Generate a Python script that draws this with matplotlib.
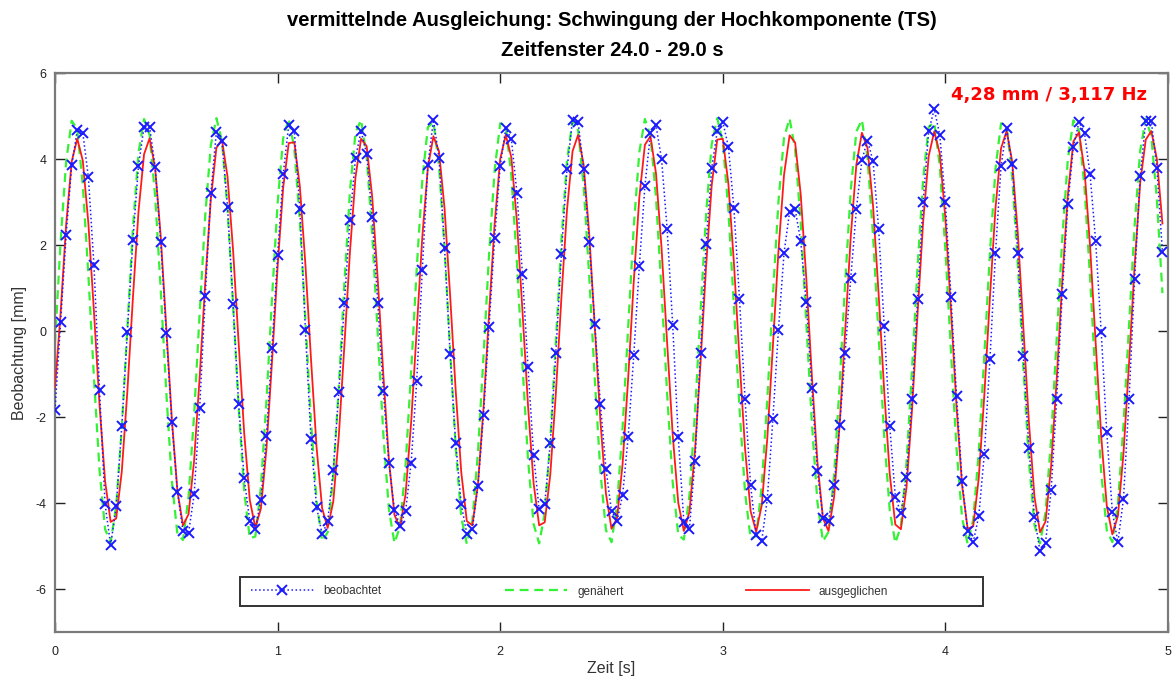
import numpy as np
import matplotlib
matplotlib.use("Agg")
import matplotlib.pyplot as plt
from matplotlib.patches import Rectangle

# Abtastrate der Messung (Hz) und Zeitfenster
ABTASTRATE = 40.0
FENSTER_START = 24.0
FENSTER_ENDE = 29.0

# Ergebnis der Ausgleichung
AMPLITUDE_MM = 4.28
FREQUENZ_HZ = 3.117

# beobachtete Hochkomponente [mm]
beobachtet = [
    -1.84, 0.20, 2.23, 3.85, 4.67, 4.61, 3.57, 1.53, -1.37, -4.03,
    -4.98, -4.08, -2.22, -0.02, 2.12, 3.84, 4.75, 4.75, 3.81, 2.07,
    -0.05, -2.12, -3.74, -4.65, -4.70, -3.80, -1.78, 0.81, 3.20, 4.63,
    4.42, 2.89, 0.62, -1.70, -3.43, -4.42, -4.60, -3.93, -2.44, -0.39,
    1.77, 3.64, 4.79, 4.65, 2.83, 0.02, -2.52, -4.09, -4.73, -4.43,
    -3.24, -1.42, 0.64, 2.58, 4.03, 4.65, 4.12, 2.66, 0.66, -1.40,
    -3.06, -4.17, -4.53, -4.19, -3.06, -1.16, 1.42, 3.85, 4.91, 4.03,
    1.94, -0.53, -2.61, -4.03, -4.71, -4.60, -3.60, -1.95, 0.09, 2.16,
    3.84, 4.71, 4.47, 3.22, 1.32, -0.84, -2.88, -4.15, -4.03, -2.61,
    -0.50, 1.80, 3.76, 4.91, 4.86, 3.76, 2.07, 0.16, -1.69, -3.20,
    -4.19, -4.42, -3.81, -2.46, -0.56, 1.51, 3.37, 4.60, 4.78, 3.99,
    2.37, 0.13, -2.47, -4.44, -4.61, -3.02, -0.51, 2.02, 3.78, 4.65,
    4.86, 4.29, 2.85, 0.74, -1.59, -3.59, -4.75, -4.88, -3.90, -2.05,
    0.03, 1.81, 2.77, 2.83, 2.09, 0.67, -1.32, -3.26, -4.34, -4.42,
    -3.57, -2.19, -0.50, 1.24, 2.83, 3.98, 4.43, 3.95, 2.38, 0.12,
    -2.21, -3.85, -4.24, -3.39, -1.59, 0.74, 3.00, 4.65, 5.16, 4.55,
    2.99, 0.80, -1.51, -3.49, -4.65, -4.91, -4.30, -2.85, -0.66, 1.81,
    3.84, 4.71, 3.88, 1.81, -0.58, -2.71, -4.32, -5.12, -4.92, -3.70,
    -1.59, 0.87, 2.95, 4.29, 4.86, 4.60, 3.64, 2.09, -0.03, -2.36,
    -4.21, -4.91, -3.90, -1.59, 1.20, 3.60, 4.88, 4.88, 3.78, 1.84,
]

# Näherungswerte vor der Ausgleichung [mm]
genaehert = [
    -0.28, 2.07, 3.94, 4.89, 4.69, 3.39, 1.30, -1.09, -3.23, -4.61,
    -4.92, -4.06, -2.26, 0.07, 2.39, 4.14, 4.93, 4.56, 3.13, 0.96,
    -1.43, -3.49, -4.73, -4.86, -3.85, -1.94, 0.42, 2.69, 4.32, 4.95,
    4.42, 2.85, 0.61, -1.77, -3.73, -4.82, -4.78, -3.62, -1.62, 0.77,
    2.97, 4.48, 4.94, 4.25, 2.55, 0.26, -2.09, -3.95, -4.89, -4.68,
    -3.38, -1.28, 1.11, 3.25, 4.62, 4.91, 4.05, 2.25, -0.09, -2.40,
    -4.15, -4.93, -4.55, -3.11, -0.94, 1.45, 3.50, 4.74, 4.86, 3.84,
    1.93, -0.44, -2.70, -4.33, -4.95, -4.41, -2.83, -0.59, 1.78, 3.74,
    4.83, 4.78, 3.61, 1.60, -0.79, -2.99, -4.49, -4.94, -4.24, -2.54,
    -0.24, 2.11, 3.96, 4.89, 4.67, 3.36, 1.26, -1.13, -3.26, -4.63,
    -4.91, -4.04, -2.23, 0.11, 2.42, 4.16, 4.93, 4.55, 3.10, 0.92,
    -1.47, -3.52, -4.74, -4.85, -3.83, -1.91, 0.46, 2.72, 4.34, 4.95,
    4.40, 2.81, 0.57, -1.80, -3.76, -4.83, -4.77, -3.60, -1.58, 0.81,
    3.01, 4.50, 4.94, 4.22, 2.52, 0.22, -2.12, -3.98, -4.89, -4.67,
    -3.35, -1.24, 1.15, 3.28, 4.64, 4.91, 4.03, 2.21, -0.13, -2.44,
    -4.17, -4.93, -4.54, -3.08, -0.90, 1.49, 3.53, 4.75, 4.85, 3.82,
    1.89, -0.48, -2.74, -4.35, -4.95, -4.39, -2.80, -0.55, 1.82, 3.77,
    4.83, 4.77, 3.58, 1.56, -0.83, -3.02, -4.51, -4.94, -4.21, -2.50,
    -0.20, 2.14, 3.99, 4.90, 4.66, 3.33, 1.23, -1.17, -3.29, -4.64,
    -4.91, -4.02, -2.19, 0.15, 2.45, 4.19, 4.94, 4.53, 3.07, 0.88,
]

# ausgeglichene Werte [mm]
ausgeglichen = [
    -1.32, 0.41, 2.47, 3.94, 4.47, 3.96, 2.50, 0.45, -1.72, -3.49,
    -4.44, -4.36, -3.27, -1.41, 0.77, 2.77, 4.11, 4.48, 3.78, 2.20,
    0.08, -2.06, -3.72, -4.52, -4.26, -3.01, -1.06, 1.14, 3.06, 4.26,
    4.45, 3.59, 1.88, -0.28, -2.38, -3.93, -4.57, -4.13, -2.73, -0.70,
    1.49, 3.33, 4.37, 4.39, 3.36, 1.54, -0.65, -2.70, -4.12, -4.58,
    -3.97, -2.44, -0.34, 1.84, 3.58, 4.47, 4.30, 3.12, 1.19, -1.02,
    -3.00, -4.28, -4.57, -3.79, -2.12, 0.03, 2.18, 3.80, 4.53, 4.18,
    2.85, 0.83, -1.38, -3.28, -4.42, -4.52, -3.57, -1.79, 0.41, 2.50,
    4.00, 4.56, 4.04, 2.56, 0.47, -1.74, -3.54, -4.52, -4.45, -3.34,
    -1.45, 0.78, 2.81, 4.18, 4.56, 3.86, 2.25, 0.10, -2.08, -3.78,
    -4.60, -4.35, -3.08, -1.09, 1.15, 3.11, 4.33, 4.53, 3.66, 1.92,
    -0.28, -2.42, -4.00, -4.65, -4.21, -2.79, -0.73, 1.51, 3.38, 4.45,
    4.47, 3.43, 1.58, -0.65, -2.74, -4.19, -4.67, -4.05, -2.49, -0.35,
    1.86, 3.63, 4.55, 4.38, 3.18, 1.23, -1.03, -3.04, -4.36, -4.65,
    -3.86, -2.17, 0.02, 2.21, 3.87, 4.61, 4.26, 2.91, 0.86, -1.39,
    -3.33, -4.50, -4.61, -3.65, -1.84, 0.40, 2.54, 4.07, 4.64, 4.12,
    2.61, 0.49, -1.76, -3.60, -4.60, -4.54, -3.41, -1.48, 0.78, 2.86,
    4.25, 4.65, 3.94, 2.30, 0.11, -2.11, -3.85, -4.68, -4.43, -3.14,
    -1.12, 1.16, 3.16, 4.41, 4.62, 3.74, 1.97, -0.27, -2.45, -4.07,
    -4.73, -4.30, -2.85, -0.75, 1.52, 3.44, 4.45, 4.65, 4.00, 2.50,
]

zeit = np.arange(len(beobachtet)) / ABTASTRATE

plt.rcParams["font.family"] = ["Liberation Sans", "DejaVu Sans"]
plt.rcParams["axes.unicode_minus"] = False

W, H = 1172, 678
AX_L, AX_R, AX_T, AX_B = 55, 1168, 73, 632
fig = plt.figure(figsize=(W / 100, H / 100), dpi=100)
ax = fig.add_axes([AX_L / W, 1 - AX_B / H, (AX_R - AX_L) / W, (AX_B - AX_T) / H])


def ax_x(px):
    return (px - AX_L) / (AX_R - AX_L)


def ax_y(py):
    return (AX_B - py) / (AX_B - AX_T)


ax.plot(zeit, beobachtet, color=(0.1, 0.1, 1.0), linestyle=":", linewidth=1.1,
        marker="x", markersize=6.5, markeredgewidth=1.4, zorder=4,
        label="beobachtet")
ax.plot(zeit, genaehert, color=(0.2, 0.95, 0.2), linestyle=(0, (4, 2.6)),
        linewidth=1.6, zorder=2, label="genähert")
ax.plot(zeit, ausgeglichen, color=(1.0, 0.1, 0.1), linestyle="-",
        linewidth=1.3, zorder=3, label="ausgeglichen")

ax.set_xlim(0, FENSTER_ENDE - FENSTER_START)
ax.set_ylim(-7, 6)
ax.set_xticks(np.arange(0, 6, 1))
ax.set_yticks(np.arange(-6, 7, 2))
ax.tick_params(direction="in", length=7, width=1.0, colors="#222222",
               labelsize=9, top=True, right=True)
ax.tick_params(axis="y", pad=6)
ax.tick_params(axis="x", pad=10)
for sp in ax.spines.values():
    sp.set_color("#7a7a7a")
    sp.set_linewidth(1.6)

ax.set_xlabel("Zeit [s]", fontsize=11.5, color="#333333", labelpad=2)
ax.set_ylabel("Beobachtung [mm]", fontsize=11.5, color="#333333", labelpad=6)

fig.text(612 / W, 1 - 20 / H,
         "vermittelnde Ausgleichung: Schwingung der Hochkomponente (TS)",
         ha="center", va="center", fontsize=14.6, fontweight="bold")
fig.text(612 / W, 1 - 50 / H,
         f"Zeitfenster {FENSTER_START:.1f} - {FENSTER_ENDE:.1f} s",
         ha="center", va="center", fontsize=14.6, fontweight="bold")

ergebnis = f"{AMPLITUDE_MM:.2f} mm / {FREQUENZ_HZ:.3f} Hz".replace(".", ",")
ax.text(ax_x(1147), ax_y(95), ergebnis, transform=ax.transAxes, ha="right",
        va="center", color="red", fontsize=13, fontweight="bold",
        family="DejaVu Sans")

# Legendenrahmen und Einträge
rahmen = Rectangle((ax_x(240), ax_y(606)), ax_x(983) - ax_x(240),
                   ax_y(577) - ax_y(606), transform=ax.transAxes,
                   facecolor="white", edgecolor="#333333", linewidth=1.4,
                   zorder=5)
ax.add_patch(rahmen)
leg = ax.legend(loc="center left", bbox_to_anchor=(ax_x(251), ax_y(591.5)),
                ncol=3, fontsize=8.5, handlelength=5.3, handletextpad=0.85,
                columnspacing=10.4, borderaxespad=0, borderpad=0,
                frameon=False)
leg.set_zorder(6)
for t in leg.get_texts():
    t.set_color("#333333")

fig.savefig("out.png", dpi=100)
